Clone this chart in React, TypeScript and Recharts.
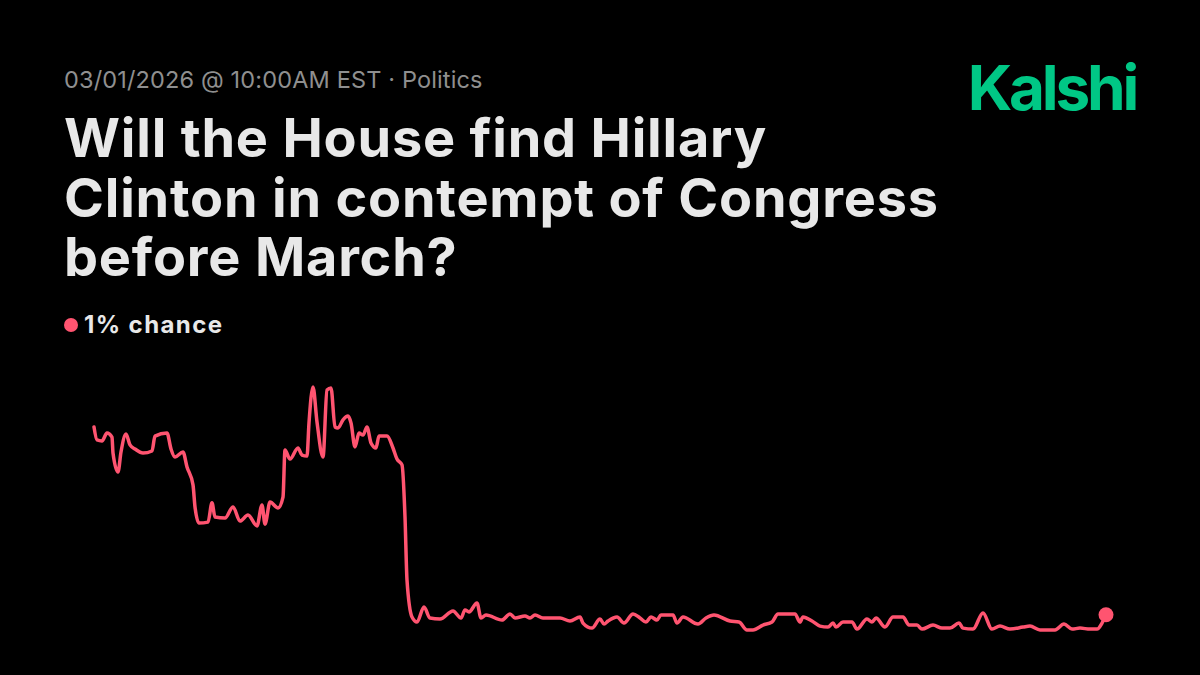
import { LineChart, Line, XAxis, YAxis, ReferenceDot } from 'recharts'

// hours since market open
const hours = [
  0, 3, 8, 13, 18, 19, 24, 27, 32, 36,
  41, 49, 58, 61, 73, 77, 81, 89, 93, 99,
  101, 105, 114, 118, 121, 131, 139, 146, 154, 163,
  168, 171, 176, 184, 189, 191, 196, 204, 208, 213,
  215, 219, 223, 229, 233, 237, 241, 244, 249, 254,
  257, 261, 265, 269, 273, 277, 282, 285, 293, 299,
  303, 308, 311, 313, 318, 323, 330, 336, 346, 359,
  367, 371, 375, 383, 387, 392, 408, 416, 421, 431,
  436, 441, 449, 466, 476, 486, 489, 498, 506, 510,
  514, 523, 530, 539, 546, 552, 557, 563, 567, 579,
  583, 589, 604, 612, 620, 636, 645, 653, 659, 669,
  678, 684, 701, 706, 709, 718, 726, 734, 739, 742,
  749, 758, 763, 773, 778, 782, 791, 799, 809, 815,
  823, 828, 839, 848, 856, 865, 869, 879, 889, 898,
  906, 916, 929, 936, 946, 961, 970, 978, 986, 996,
  1003, 1008, 1012,
]

// chance in percent
const chance = [
  8.42, 7.91, 7.87, 8.18, 8.02, 7.39, 6.64, 7.43, 8.14, 7.71,
  7.55, 7.39, 7.47, 8.06, 8.18, 7.55, 7.23, 7.43, 6.84, 6.13,
  5.26, 4.62, 4.66, 5.42, 4.86, 4.82, 5.26, 4.7, 4.94, 4.51,
  5.34, 4.58, 5.45, 5.22, 5.65, 7.51, 7.15, 7.59, 7.31, 7.27,
  8.58, 10.0, 8.62, 7.23, 9.88, 9.96, 8.42, 8.38, 8.7, 8.85,
  8.58, 7.63, 8.18, 8.1, 8.42, 7.79, 7.59, 8.06, 8.06, 7.59,
  7.15, 6.92, 4.86, 2.37, 0.91, 0.71, 1.3, 0.87, 0.83, 1.15,
  0.87, 1.19, 1.11, 1.46, 0.87, 0.99, 0.79, 1.03, 0.87, 0.95,
  0.87, 0.99, 0.87, 0.87, 0.75, 0.91, 0.67, 0.47, 0.83, 0.63,
  0.75, 0.91, 0.67, 1.03, 0.87, 0.71, 0.91, 0.79, 0.99, 0.99,
  0.67, 0.91, 0.63, 0.87, 0.99, 0.75, 0.71, 0.4, 0.4, 0.59,
  0.71, 1.03, 1.03, 0.71, 0.91, 0.75, 0.55, 0.51, 0.67, 0.51,
  0.71, 0.71, 0.43, 0.83, 0.71, 0.87, 0.51, 0.91, 0.91, 0.59,
  0.59, 0.43, 0.59, 0.47, 0.47, 0.67, 0.47, 0.43, 1.07, 0.43,
  0.55, 0.43, 0.51, 0.55, 0.4, 0.4, 0.63, 0.43, 0.47, 0.43,
  0.43, 0.67, 1.0,
]

const titleLines = [
  'Will the House find Hillary',
  'Clinton in contempt of Congress',
  'before March?',
]

const RED = '#ff5470'
const FONT = 'Inter, "Noto Sans", sans-serif'

const data = hours.map((h, i) => ({ h, v: chance[i] }))
const last = data[data.length - 1]

export default function App() {
  return (
    <div
      style={{
        position: 'fixed',
        left: 0,
        top: 0,
        width: 1200,
        height: 675,
        background: '#000',
        overflow: 'hidden',
      }}
    >
      <svg
        width={1200}
        height={675}
        style={{ position: 'absolute', left: 0, top: 0, fontFamily: FONT }}
      >
        <text x={64} y={88} fontSize={23.5} fill="#8f8f8f" letterSpacing={0.15}>
          03/01/2026 @ 10:00AM EST · Politics
        </text>
        {titleLines.map((t, i) => (
          <text
            key={i}
            x={64}
            y={157 + i * 59.5}
            fontSize={54}
            fontWeight={700}
            fill="#e8e8e8"
            letterSpacing={0.8}
          >
            {t}
          </text>
        ))}
        <circle cx={71} cy={325} r={7} fill={RED} />
        <text
          x={84}
          y={333}
          fontSize={24}
          fontWeight={700}
          fill="#e8e8e8"
          letterSpacing={1.4}
        >
          1% chance
        </text>
        <text
          x={1136}
          y={110}
          textAnchor="end"
          fontSize={62}
          fontWeight={700}
          fill="#00c785"
          letterSpacing={-3.2}
        >
          Kalshi
        </text>
      </svg>
      <div style={{ position: 'absolute', left: 0, top: 0 }}>
        <LineChart
          width={1200}
          height={675}
          data={data}
          margin={{ top: 387, right: 94, bottom: 35, left: 94 }}
        >
          <XAxis dataKey="h" type="number" domain={[0, 1012]} hide />
          <YAxis domain={[0, 10]} hide />
          <Line
            type="monotone"
            dataKey="v"
            stroke={RED}
            strokeWidth={3.5}
            strokeLinejoin="round"
            strokeLinecap="round"
            dot={false}
            isAnimationActive={false}
          />
          <ReferenceDot x={last.h} y={last.v} r={7.5} fill={RED} stroke="none" />
        </LineChart>
      </div>
    </div>
  )
}
